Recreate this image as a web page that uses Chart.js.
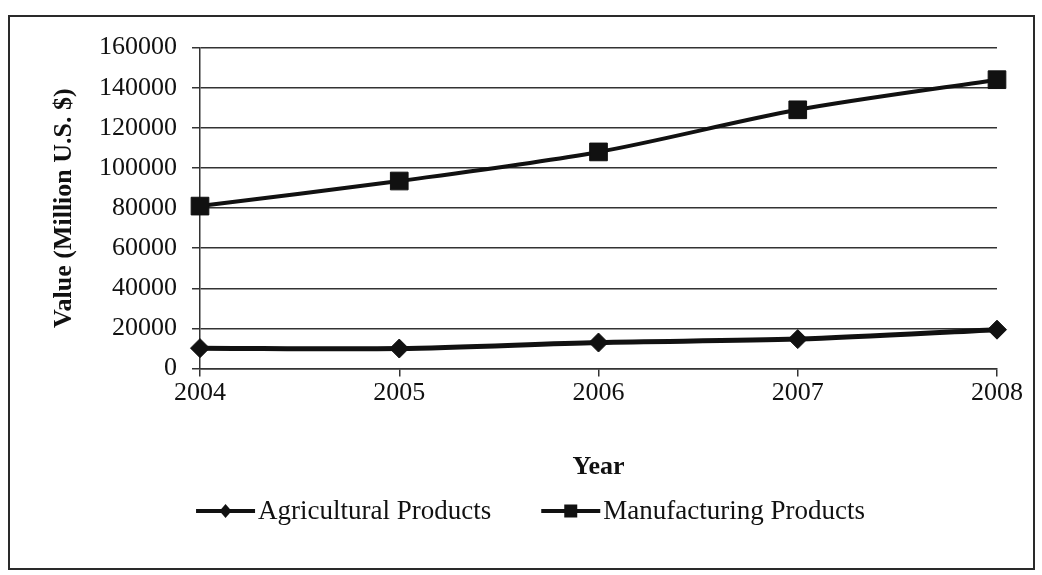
<!DOCTYPE html>
<html>
<head>
<meta charset="utf-8">
<script src="https://cdn.jsdelivr.net/npm/chart.js@4.4.0/dist/chart.umd.min.js"></script>
<style>
  html, body { margin: 0; padding: 0; background: #fff; }
  #box { position: absolute; left: 8px; top: 15px; width: 1023px; height: 551px; border: 2px solid #2a2a2a; background: #fff; }
  canvas { display: block; }
</style>
</head>
<body>
<div id="box"><canvas id="chart" width="1023" height="551"></canvas></div>
<script>
// values (million U.S. $)
const years = ['2004', '2005', '2006', '2007', '2008'];
const agricultural = [10200, 10000, 13000, 14700, 19400];
const manufacturing = [81000, 93500, 108000, 129000, 144000];
const yMin = 0, yMax = 160000, yStep = 20000;

const serif = '"Liberation Serif", "Times New Roman", serif';
const ink = '#111';

// legend drawn as line + marker like the original
const lineLegend = {
    id: 'lineLegend',
    afterDraw(chart) {
        const ctx = chart.ctx;
        const y = 494;
        const lineLen = 59, gapText = 3, gapItem = 50;
        ctx.save();
        ctx.font = '27px ' + serif;
        ctx.textBaseline = 'middle';
        const items = chart.data.datasets.map(ds => ({
            ds: ds,
            w: lineLen + gapText + ctx.measureText(ds.label).width
        }));
        const total = items.reduce((s, it) => s + it.w, 0) + gapItem * (items.length - 1);
        let x = chart.width / 2 + 9 - total / 2;
        items.forEach(it => {
            ctx.strokeStyle = ink;
            ctx.fillStyle = ink;
            ctx.lineWidth = 4;
            ctx.beginPath();
            ctx.moveTo(x, y);
            ctx.lineTo(x + lineLen, y);
            ctx.stroke();
            const cx = x + lineLen / 2;
            ctx.beginPath();
            if (it.ds.pointStyle === 'rectRot') {
                ctx.moveTo(cx, y - 7);
                ctx.lineTo(cx + 6, y);
                ctx.lineTo(cx, y + 7);
                ctx.lineTo(cx - 6, y);
            } else {
                ctx.rect(cx - 6.5, y - 6.5, 13, 13);
            }
            ctx.closePath();
            ctx.fill();
            ctx.fillText(it.ds.label, x + lineLen + gapText, y + 1);
            x += it.w + gapItem;
        });
        ctx.restore();
    }
};

const ctx = document.getElementById('chart').getContext('2d');
new Chart(ctx, {
    type: 'line',
    data: {
        labels: years,
        datasets: [{
            label: 'Agricultural Products',
            data: agricultural,
            borderColor: ink,
            backgroundColor: ink,
            borderWidth: 5,
            pointStyle: 'rectRot',
            pointRadius: 9.5,
            pointBorderWidth: 1,
            tension: 0.3
        }, {
            label: 'Manufacturing Products',
            data: manufacturing,
            borderColor: ink,
            backgroundColor: ink,
            borderWidth: 4,
            pointStyle: 'rect',
            pointRadius: 12.5,
            pointBorderWidth: 1,
            tension: 0.3
        }]
    },
    options: {
        responsive: false,
        animation: false,
        layout: {
            padding: { left: 35, top: 28, right: 36, bottom: 81 }
        },
        plugins: {
            legend: { display: false },
            tooltip: { enabled: false }
        },
        scales: {
            x: {
                offset: false,
                grid: {
                    drawOnChartArea: false,
                    drawTicks: true,
                    tickLength: 8,
                    color: '#333',
                    lineWidth: 1.5
                },
                border: { display: true, color: '#333', width: 1.5 },
                ticks: {
                    padding: 1,
                    color: ink,
                    font: { family: serif, size: 26 },
                    maxRotation: 0,
                    autoSkip: false
                },
                title: {
                    display: true,
                    text: 'Year',
                    color: ink,
                    font: { family: serif, size: 26, weight: 'bold' },
                    padding: { top: 42, bottom: 4 }
                }
            },
            y: {
                min: yMin,
                max: yMax,
                afterFit: scale => { scale.width = 155; },
                grid: {
                    drawTicks: true,
                    tickLength: 8,
                    color: '#333',
                    lineWidth: 1.5
                },
                border: { display: true, color: '#333', width: 1.5 },
                ticks: {
                    stepSize: yStep,
                    padding: 15,
                    color: ink,
                    font: { family: serif, size: 26 },
                    callback: v => String(v)
                },
                title: {
                    display: true,
                    text: 'Value (Million U.S. $)',
                    color: ink,
                    font: { family: serif, size: 26, weight: 'bold' },
                    padding: { top: 4, bottom: 4 }
                }
            }
        }
    },
    plugins: [lineLegend]
});
</script>
</body>
</html>
